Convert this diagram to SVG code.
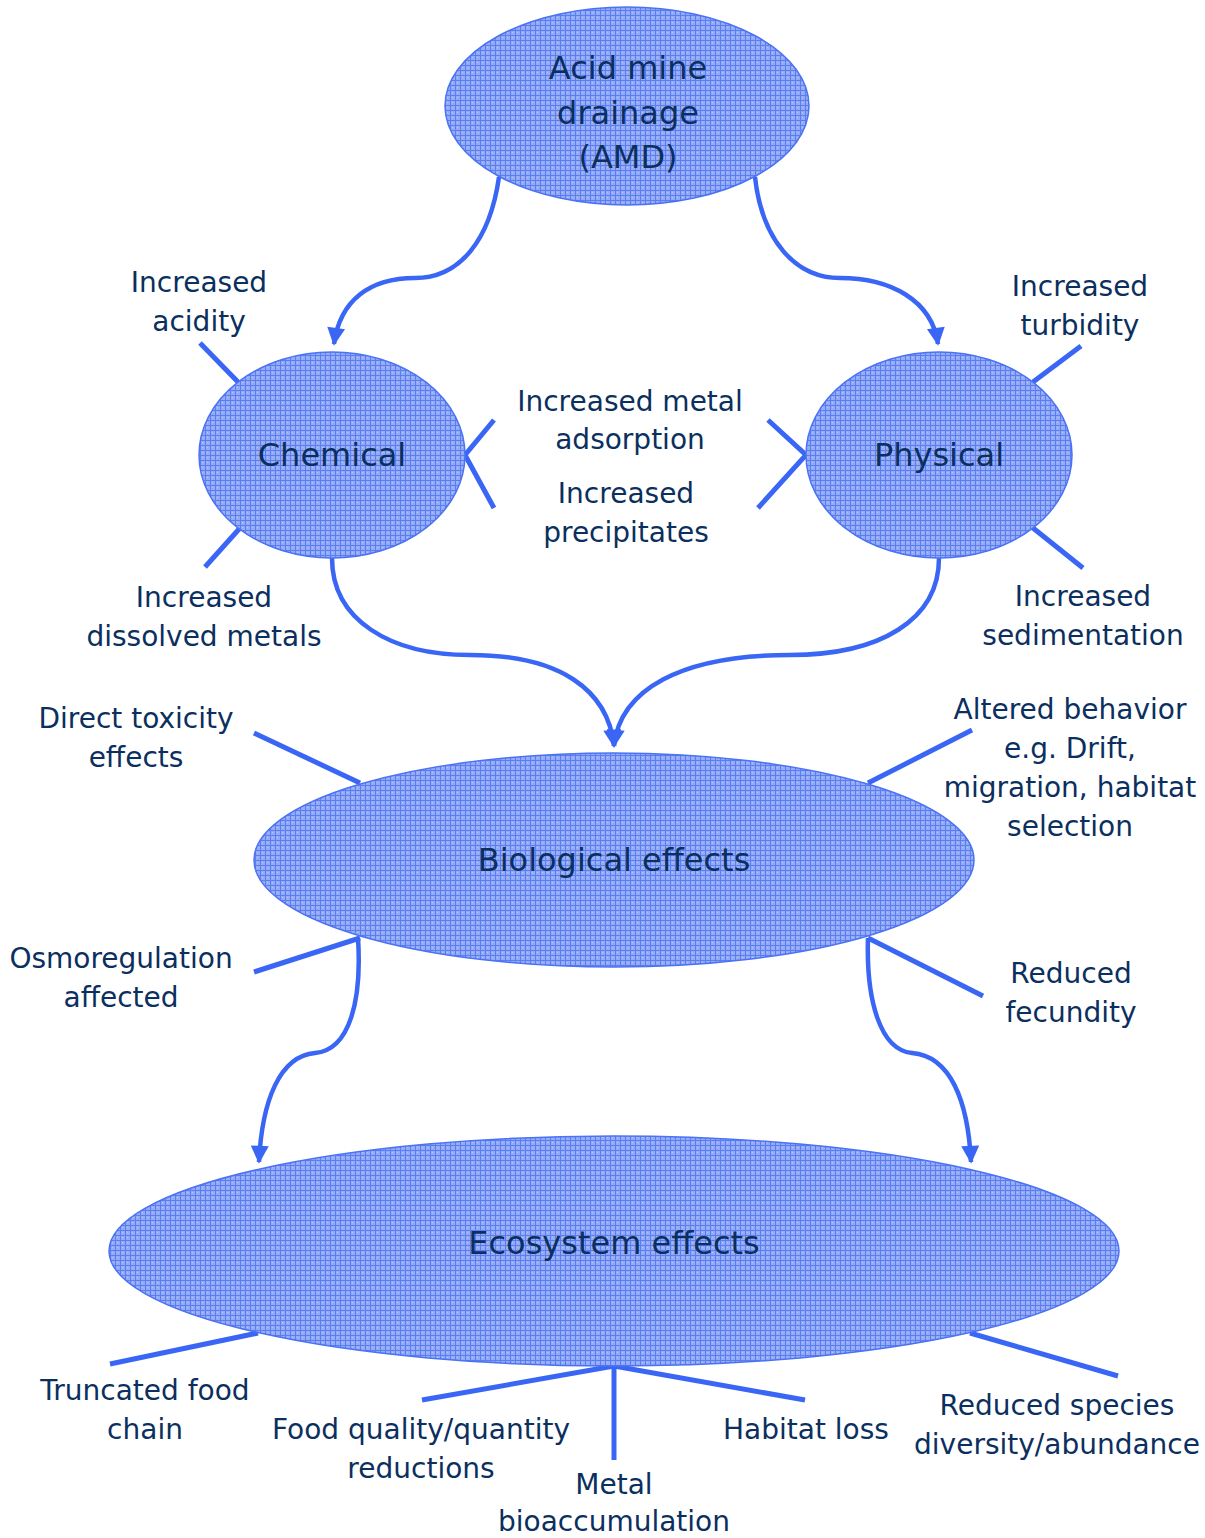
<svg xmlns="http://www.w3.org/2000/svg" width="1205" height="1538" viewBox="0 0 1205 1538">
<defs>
<pattern id="grid" width="5" height="5" patternUnits="userSpaceOnUse">
<rect width="5" height="5" fill="#95abf6"/>
<rect x="0" y="0" width="5" height="1" fill="#5a7df2"/>
<rect x="0" y="0" width="1" height="5" fill="#5a7df2"/>
<rect x="2" y="2" width="1" height="1" fill="#b5c5fa"/>
</pattern>
<marker id="arr" viewBox="0 0 10 10" refX="9" refY="5" markerWidth="4.5" markerHeight="4" orient="auto" markerUnits="strokeWidth">
<path d="M0,0 L10,5 L0,10 z" fill="#3a66f5"/>
</marker>
</defs>
<style>
.node ellipse{fill:url(#grid);stroke:#4a72f5;stroke-width:1.5}
.title{font-family:"DejaVu Sans",Verdana,sans-serif;font-size:32px;fill:#0b2f5e;text-anchor:middle}
.lbl{font-family:"DejaVu Sans",Verdana,sans-serif;font-size:28px;fill:#0b2f5e;text-anchor:middle}
.ln{stroke:#3a66f5;stroke-width:5;fill:none}
.arrow{stroke:#3a66f5;stroke-width:4.5;fill:none;marker-end:url(#arr)}
</style>
<rect width="1205" height="1538" fill="#ffffff"/>
<g id="connectors">
<path class="arrow" d="M499,177 C490,240 460,278 415,278 C370,278 340,300 334,344"/>
<path class="arrow" d="M755,177 C762,240 795,278 840,278 C890,278 932,300 938,344"/>
<path class="arrow" d="M332,558 C332,620 390,655 470,655 C560,655 608,690 614,746"/>
<path class="arrow" d="M939,558 C939,620 880,655 790,655 C680,655 620,690 614,746"/>
<path class="arrow" d="M358,938 C362,1000 350,1050 315,1053 C280,1056 262,1100 259,1162"/>
<path class="arrow" d="M868,938 C866,1000 880,1050 912,1053 C950,1056 968,1100 971,1162"/>
<line class="ln" x1="200" y1="343" x2="238" y2="382"/>
<line class="ln" x1="205" y1="567" x2="240" y2="528"/>
<line class="ln" x1="1081" y1="346" x2="1033" y2="382"/>
<line class="ln" x1="1033" y1="528" x2="1083" y2="568"/>
<polyline class="ln" points="494,420 465,455 494,508"/>
<polyline class="ln" points="768,420 806,455 758,508"/>
<line class="ln" x1="254" y1="733" x2="360" y2="783"/>
<line class="ln" x1="972" y1="730" x2="868" y2="783"/>
<line class="ln" x1="254" y1="972" x2="360" y2="938"/>
<line class="ln" x1="868" y1="938" x2="983" y2="996"/>
<line class="ln" x1="110" y1="1364" x2="258" y2="1333"/>
<line class="ln" x1="422" y1="1400" x2="614" y2="1366"/>
<line class="ln" x1="614" y1="1366" x2="614" y2="1460"/>
<line class="ln" x1="614" y1="1366" x2="805" y2="1400"/>
<line class="ln" x1="970" y1="1333" x2="1118" y2="1376"/>
</g>
<g id="amd" class="node">
<ellipse cx="627" cy="106" rx="182" ry="99"/>
<text class="title" x="628" y="79">Acid mine</text>
<text class="title" x="628" y="124">drainage</text>
<text class="title" x="628" y="168">(AMD)</text>
</g>
<g id="chemical" class="node">
<ellipse cx="332" cy="455" rx="133" ry="103"/>
<text class="title" x="332" y="466">Chemical</text>
</g>
<g id="physical" class="node">
<ellipse cx="939" cy="455" rx="133" ry="103"/>
<text class="title" x="939" y="466">Physical</text>
</g>
<g id="biological" class="node">
<ellipse cx="614" cy="860" rx="360" ry="107"/>
<text class="title" x="614" y="871">Biological effects</text>
</g>
<g id="ecosystem" class="node">
<ellipse cx="614" cy="1251" rx="505" ry="115"/>
<text class="title" x="614" y="1254">Ecosystem effects</text>
</g>
<g id="labels">
<text class="lbl" x="199" y="292">Increased</text>
<text class="lbl" x="199" y="331">acidity</text>
<text class="lbl" x="1080" y="296">Increased</text>
<text class="lbl" x="1080" y="335">turbidity</text>
<text class="lbl" x="630" y="411">Increased metal</text>
<text class="lbl" x="630" y="449">adsorption</text>
<text class="lbl" x="626" y="503">Increased</text>
<text class="lbl" x="626" y="542">precipitates</text>
<text class="lbl" x="204" y="607">Increased</text>
<text class="lbl" x="204" y="646">dissolved metals</text>
<text class="lbl" x="1083" y="606">Increased</text>
<text class="lbl" x="1083" y="645">sedimentation</text>
<text class="lbl" x="136" y="728">Direct toxicity</text>
<text class="lbl" x="136" y="767">effects</text>
<text class="lbl" x="1070" y="719">Altered behavior</text>
<text class="lbl" x="1070" y="758">e.g. Drift,</text>
<text class="lbl" x="1070" y="797">migration, habitat</text>
<text class="lbl" x="1070" y="836">selection</text>
<text class="lbl" x="121" y="968">Osmoregulation</text>
<text class="lbl" x="121" y="1007">affected</text>
<text class="lbl" x="1071" y="983">Reduced</text>
<text class="lbl" x="1071" y="1022">fecundity</text>
<text class="lbl" x="145" y="1400">Truncated food</text>
<text class="lbl" x="145" y="1439">chain</text>
<text class="lbl" x="421" y="1439">Food quality/quantity</text>
<text class="lbl" x="421" y="1478">reductions</text>
<text class="lbl" x="614" y="1494">Metal</text>
<text class="lbl" x="614" y="1531">bioaccumulation</text>
<text class="lbl" x="806" y="1439">Habitat loss</text>
<text class="lbl" x="1057" y="1415">Reduced species</text>
<text class="lbl" x="1057" y="1454">diversity/abundance</text>
</g>
</svg>
